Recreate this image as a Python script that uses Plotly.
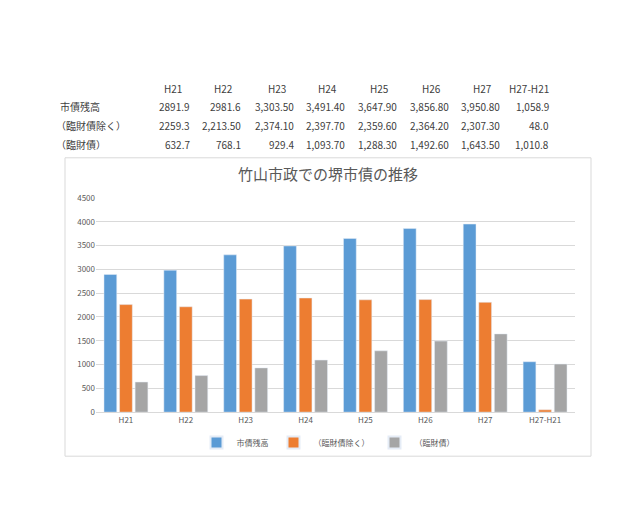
import plotly.graph_objects as go

categories = ["H21", "H22", "H23", "H24", "H25", "H26", "H27", "H27-H21"]
series_names = ["市債残高", "（臨財債除く）", "（臨財債）"]
total = [2891.9, 2981.6, 3303.5, 3491.4, 3647.9, 3856.8, 3950.8, 1058.9]
excl = [2259.3, 2213.5, 2374.1, 2397.7, 2359.6, 2364.2, 2307.3, 48.0]
rinzai = [632.7, 768.1, 929.4, 1093.7, 1288.3, 1492.6, 1643.5, 1010.8]
table_text = [
    ["2891.9", "2981.6", "3,303.50", "3,491.40", "3,647.90", "3,856.80", "3,950.80", "1,058.9"],
    ["2259.3", "2,213.50", "2,374.10", "2,397.70", "2,359.60", "2,364.20", "2,307.30", "48.0"],
    ["632.7", "768.1", "929.4", "1,093.70", "1,288.30", "1,492.60", "1,643.50", "1,010.8"],
]
colors = ["#5b9bd5", "#ed7d31", "#a5a5a5"]
title = "竹山市政での堺市債の推移"

W, H = 640, 506
px = lambda x: x / W
py = lambda y: 1 - y / H
FONT = "Noto Sans CJK JP, Noto Sans, sans-serif"
TC = "#404040"

fig = go.Figure()
for name, vals, c in zip(series_names, [total, excl, rinzai], colors):
    fig.add_trace(go.Bar(x=categories, y=vals, name=name, marker_color=c))

ann = []
col_right = [184, 235, 288, 339, 391, 443, 494, 543]
for i, cat in enumerate(categories):
    ann.append(dict(x=px(col_right[i] - 8 if i < 7 else col_right[i]), y=py(76), text=cat,
                    xanchor="right", showarrow=False, font=dict(size=10, color=TC)))
for r, (label, row) in enumerate(zip(series_names, table_text)):
    yy = py(95 + r * 19)
    ann.append(dict(x=px(50 if r == 0 else 46), y=yy, text=label, xanchor="left", showarrow=False,
                    font=dict(size=10, color=TC)))
    for i, t in enumerate(row):
        ann.append(dict(x=px(col_right[i]), y=yy, text=t, xanchor="right", showarrow=False,
                        font=dict(size=10, color=TC)))
ann.append(dict(x=px(320), y=py(163), text=title, showarrow=False, font=dict(size=15, color="#595959")))
for a in ann:
    a.update(xref="paper", yref="paper", yanchor="middle")

fig.update_layout(
    width=W, height=H, margin=dict(l=0, r=0, t=0, b=0),
    paper_bgcolor="white", plot_bgcolor="white",
    font=dict(family=FONT, size=8, color="#595959"),
    barmode="group", bargap=0.22, bargroupgap=0.18,
    xaxis=dict(domain=[px(88), px(567)], showline=True, linecolor="#d9d9d9", ticks=""),
    yaxis=dict(domain=[py(407), py(188)], range=[0, 4500], dtick=500, gridcolor="#d9d9d9",
               zeroline=False, tickfont=dict(size=8)),
    legend=dict(orientation="h", x=0.5, xanchor="center", y=py(438), yanchor="middle",
                font=dict(size=8), traceorder="normal", bgcolor="rgba(0,0,0,0)",
                itemwidth=30, itemsizing="constant"),
    annotations=ann,
    shapes=[dict(type="rect", xref="paper", yref="paper", x0=px(57), x1=px(583), y0=py(452), y1=py(147),
                 line=dict(color="#d9d9d9", width=1))],
)
fig.write_html("out.html")
